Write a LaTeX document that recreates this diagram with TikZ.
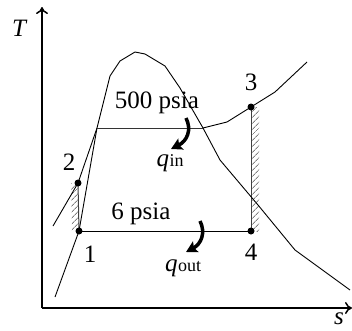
\documentclass[tikz,border=0pt]{standalone}
\usepackage{fontspec}
\setmainfont{Liberation Serif}
\usetikzlibrary{arrows.meta,patterns.meta}
\begin{document}
\begin{tikzpicture}[x=1pt,y=-1pt,
  lbl/.style={font=\fontsize{25}{28}\selectfont, inner sep=0pt},
  curve/.style={line width=0.9pt, line join=round},
  axis/.style={line width=1.5pt, -{To[length=7pt,width=12pt]}},
  dot/.style={circle, fill=black, inner sep=0pt, minimum size=7pt},
  hatch/.style={pattern={Lines[angle=45,distance=4pt,line width=1pt]}, pattern color=gray},
  heat/.style={line width=3.5pt, -{Stealth[length=11pt,width=12pt,inset=2pt]}}]
\useasboundingbox (0,0) rectangle (352,330);
% axes
\coordinate (O) at (42,308);
\coordinate (Ttop) at (42,7);
\coordinate (Sright) at (352,308);
\draw[axis] (O) -- (Ttop);
\draw[axis] (O) -- (Sright);
\node[lbl, font=\fontsize{25}{28}\selectfont\itshape] (T) at (19,28) {T};
\node[lbl, font=\fontsize{25}{28}\selectfont\itshape] (S) at (339,319) {s};
% state points
\coordinate (p1) at (79,231);
\coordinate (p2) at (78,183);
\coordinate (p3) at (251,107);
\coordinate (p4) at (251,231);
% hatched strips
\fill[hatch] (71,183) -- (p2) -- (p1) -- (72,231) -- cycle;
\fill[hatch] (p3) -- (259,107) -- (259,231) -- (p4) -- cycle;
\draw[line width=1pt, black!75] (p2) -- (p1);
\draw[line width=1pt, black!75] (p3) -- (p4);
% saturation dome
\draw[curve] (55,297) -- (p1) -- (97,128) -- (110,76) -- (120,61) -- (135,52) -- (145,54) -- (165,66) -- (180,88) -- (203,128) -- (220,160) -- (258,205) -- (295,250) -- (350,290);
% 500 psia isobar
\draw[curve] (53,226) -- (p2) -- (97,128);
\draw[curve, black!80] (97,128) -- (203,128);
\draw[curve] (203,128) -- (227,122) -- (p3) -- (275,92) -- (307,62);
% 6 psia
\draw[curve] (p1) -- (p4);
% dots
\node[dot] (d1) at (p1) {};
\node[dot] (d2) at (p2) {};
\node[dot] (d3) at (p3) {};
\node[dot] (d4) at (p4) {};
% labels
\node[lbl] (l1) at (90,254) {1};
\node[lbl] (l2) at (69,162) {2};
\node[lbl] (l3) at (251,82) {3};
\node[lbl] (l4) at (251,252) {4};
\node[lbl] (hp) at (157,103) {500 psia};
\node[lbl] (lp) at (141,214) {6 psia};
\node[lbl] (qin) at (170,163) {\textit{q}\kern0.5pt{\fontsize{18}{20}\selectfont in}};
\node[lbl] (qout) at (183,268) {\textit{q}\kern0.5pt{\fontsize{18}{20}\selectfont out}};
% heat arrows
\coordinate (qa0) at (186,118);
\coordinate (qa1) at (171,149);
\draw[heat] (qa0) .. controls (192,130) and (187,141) .. (qa1);
\coordinate (qb0) at (200,221);
\coordinate (qb1) at (186,252);
\draw[heat] (qb0) .. controls (206,233) and (201,244) .. (qb1);
\end{tikzpicture}
\end{document}
